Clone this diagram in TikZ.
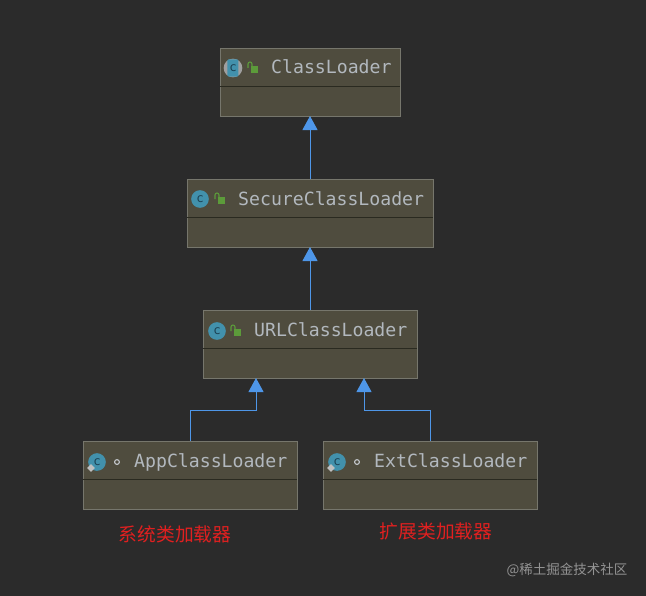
\documentclass[tikz,border=0pt]{standalone}
\usepackage{fontspec}
\usetikzlibrary{arrows.meta,positioning,calc,shapes.geometric}
\newfontfamily\titlefont{DejaVu Sans Mono}
\newfontfamily\cjkfont{Noto Sans CJK SC}
\definecolor{bgdark}{RGB}{43,43,43}
\definecolor{boxfill}{RGB}{79,76,62}
\definecolor{boxline}{RGB}{118,118,108}
\definecolor{divline}{RGB}{42,42,32}
\definecolor{titlegray}{RGB}{178,184,190}
\definecolor{iconteal}{RGB}{66,145,172}
\definecolor{icondark}{RGB}{28,66,84}
\definecolor{lockgreen}{RGB}{92,155,58}
\definecolor{arrowblue}{RGB}{78,150,232}
\definecolor{notered}{RGB}{224,32,32}
\tikzset{
  classbox/.style={draw=boxline,line width=0.7pt,fill=boxfill,outer sep=0pt,minimum height=2.04cm},
  divider/.style={draw=divline,line width=0.7pt},
  title/.style={anchor=base west,inner sep=0pt,text=titlegray,font=\titlefont\fontsize{15.5}{18}\selectfont},
  iconc/.style={circle,fill=iconteal,minimum size=0.53cm,inner sep=0pt,text=icondark,font=\titlefont\fontsize{10.5}{12}\selectfont},
  arr/.style={-{Triangle[length=4.2mm,width=4.5mm,fill=arrowblue]},draw=arrowblue,line width=0.8pt},
  note/.style={inner sep=0pt,text=notered,font=\cjkfont\fontsize{16}{19}\selectfont},
  lockicon/.pic={
    \fill[lockgreen] (-1,-1) rectangle (6,6);
    \draw[lockgreen,line width=0.9pt] (-4,1) -- (-4,-3) arc[start angle=180,end angle=0,radius=2,y radius=-2] -- (0,-1);
  },
  ringicon/.pic={\draw[titlegray!70,line width=0.9pt] (0,0) circle[radius=2.4];}
}
\begin{document}
\begin{tikzpicture}[x=0.03cm,y=-0.03cm,node distance=1.89cm]
  \useasboundingbox[fill=bgdark] (0,0) rectangle (646,596);
  \node[classbox,minimum width=5.4cm] (cl) at (310,82) {};
  \node[classbox,below=of cl,minimum width=7.38cm] (sec) {};
  \node[classbox,below=of sec,minimum width=6.42cm] (url) {};
  \node[classbox,below=of url,xshift=-3.6cm,minimum width=6.42cm] (app) {};
  \node[classbox,below=of url,xshift=3.6cm,minimum width=6.42cm] (ext) {};
  \foreach \name/\label in {cl/ClassLoader,sec/SecureClassLoader,url/URLClassLoader,app/AppClassLoader,ext/ExtClassLoader}{
    \draw[divider] ([yshift=-1.14cm]\name.north west) -- ([yshift=-1.14cm]\name.north east);
    \node[title] (\name title) at ([shift={(51,26)}]\name.north west) {\label};
  }
  % icons
  \node[circle,fill=gray!75,minimum size=0.56cm,inner sep=0pt] (clring) at ([shift={(13,20)}]cl.north west) {};
  \node[rectangle,rounded corners=1pt,fill=iconteal,minimum width=0.33cm,minimum height=0.52cm,inner sep=0pt,text=icondark,font=\titlefont\fontsize{10.5}{12}\selectfont] (clicon) at (clring) {c};
  \node[iconc] (secicon) at ([shift={(13,20)}]sec.north west) {c};
  \node[iconc] (urlicon) at ([shift={(14,21)}]url.north west) {c};
  \node[iconc] (appicon) at ([shift={(14,21)}]app.north west) {c};
  \node[iconc] (exticon) at ([shift={(14,21)}]ext.north west) {c};
  \node[diamond,fill=gray!50,minimum size=0.24cm,inner sep=0pt] (appmark) at ([shift={(-6,6)}]appicon) {};
  \node[diamond,fill=gray!50,minimum size=0.24cm,inner sep=0pt] (extmark) at ([shift={(-6,6)}]exticon) {};
  \pic at ([shift={(32,19)}]cl.north west) {lockicon};
  \pic at ([shift={(32,19)}]sec.north west) {lockicon};
  \pic at ([shift={(32,20)}]url.north west) {lockicon};
  \pic at ([shift={(34,21)}]app.north west) {ringicon};
  \pic at ([shift={(34,21)}]ext.north west) {ringicon};
  % arrows
  \coordinate (appin) at ([xshift=-1.62cm]url.south);
  \coordinate (extin) at ([xshift=1.62cm]url.south);
  \draw[arr] (sec.north) -- (cl.south);
  \draw[arr] (url.north) -- (sec.south);
  \draw[arr] (app.north) -- ++(0,-31) -| (appin);
  \draw[arr] (ext.north) -- ++(0,-31) -| (extin);
  % labels
  \node[note] (appnote) at (175,534) {系统类加载器};
  \node[note] (extnote) at (436,531) {扩展类加载器};
  \node[inner sep=0pt,text=gray!85,font=\cjkfont\fontsize{11.5}{14}\selectfont] (mark) at (567,570) {@稀土掘金技术社区};
\end{tikzpicture}
\end{document}
